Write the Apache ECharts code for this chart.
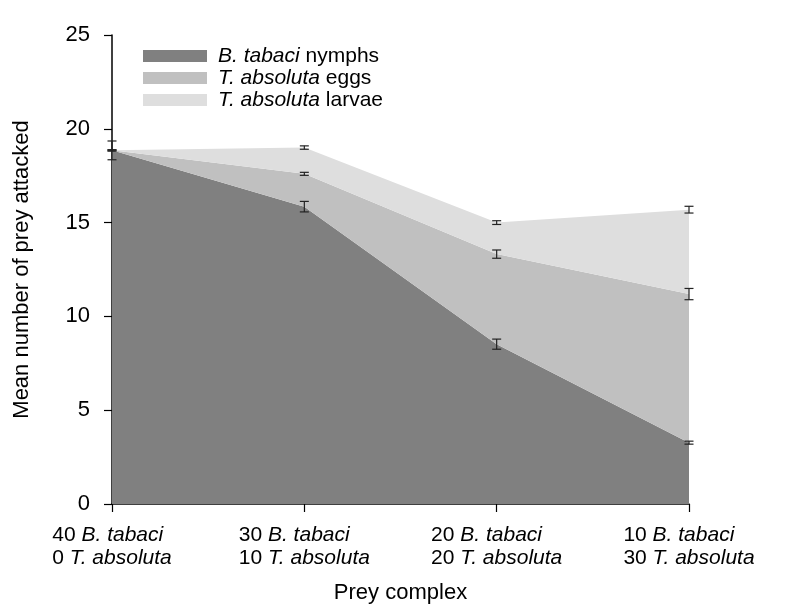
<!DOCTYPE html>
<html>
<head>
<meta charset="utf-8">
<script src="https://cdn.jsdelivr.net/npm/echarts@6/dist/echarts.min.js"></script>
<style>
html,body{margin:0;padding:0;background:#fff;}
#c{width:794px;height:616px;}
</style>
</head>
<body>
<div id="c"></div>
<script>
// ---- data ----
var bTabaciCounts = [40, 30, 20, 10];
var tAbsolutaCounts = [0, 10, 20, 30];
var nymphMeans = [18.85, 15.85, 8.52, 3.27];
var eggMeans = [0.0, 1.75, 4.8, 7.92];
var larvaeMeans = [0.0, 1.4, 1.68, 4.5];
var nymphErr = [0.5, 0.28, 0.27, 0.08];
var eggErr = [0.03, 0.08, 0.22, 0.3];
var larvaeErr = [0.03, 0.09, 0.1, 0.18];
var yTicks = [0, 5, 10, 15, 20, 25];
var seriesNames = ['B. tabaci nymphs', 'T. absoluta eggs', 'T. absoluta larvae'];

var categories = bTabaciCounts.map(function (b, i) { return b + '|' + tAbsolutaCounts[i]; });

// cumulative tops for error bars
var errData = [];
for (var i = 0; i < categories.length; i++) {
  var c1 = nymphMeans[i];
  var c2 = c1 + eggMeans[i];
  var c3 = c2 + larvaeMeans[i];
  errData.push([i, c1 - nymphErr[i], c1 + nymphErr[i]]);
  errData.push([i, c2 - eggErr[i], c2 + eggErr[i]]);
  errData.push([i, c3 - larvaeErr[i], c3 + larvaeErr[i]]);
}

var FONT = '"Liberation Sans", Arial, Helvetica, sans-serif';
var colors = ['#808080', '#c0c0c0', '#dedede'];

var chart = echarts.init(document.getElementById('c'), null, {renderer: 'canvas'});

function areaSeries(name, data, color) {
  return {
    name: name,
    type: 'line',
    stack: 'total',
    data: data,
    symbol: 'none',
    showSymbol: false,
    lineStyle: {width: 0, color: color},
    itemStyle: {color: color},
    areaStyle: {color: color, opacity: 1},
    emphasis: {disabled: true},
    silent: true,
    animation: false
  };
}

var option = {
  animation: false,
  backgroundColor: '#ffffff',
  grid: {left: 112, right: 105, top: 35, bottom: 112, containLabel: false},
  legend: {
    orient: 'vertical',
    left: 138,
    top: 40,
    itemWidth: 64,
    itemHeight: 12,
    itemGap: 0,
    icon: 'rect',
    data: seriesNames.map(function (n, k) { return {name: n, icon: 'rect', itemStyle: {color: colors[k]}}; }),
    formatter: function (name) {
      var sp = name.indexOf(' ', name.indexOf('.') + 2);
      return '{i|' + name.substring(0, sp) + '}' + name.substring(sp);
    },
    textStyle: {
      fontFamily: FONT, fontSize: 21, color: '#000', lineHeight: 22, padding: [0, 0, 0, 6],
      rich: {i: {fontFamily: FONT, fontSize: 21, fontStyle: 'italic', color: '#000', lineHeight: 22}}
    }
  },
  xAxis: {
    type: 'category',
    data: categories,
    boundaryGap: false,
    name: 'Prey complex',
    nameLocation: 'middle',
    nameGap: 78,
    nameTextStyle: {fontFamily: FONT, fontSize: 22, color: '#000'},
    axisLine: {show: true, lineStyle: {color: '#000', width: 1.5}},
    axisTick: {show: true, length: 8, alignWithLabel: true, interval: 0, lineStyle: {color: '#000', width: 1.2}},
    axisLabel: {
      interval: 0,
      margin: 20,
      color: '#000',
      fontFamily: FONT,
      fontSize: 21,
      lineHeight: 23,
      formatter: function (v) {
        var p = v.split('|');
        return '{a|' + p[0] + ' }{i|B. tabaci}\n{a|' + p[1] + ' }{i|T. absoluta}';
      },
      rich: {
        a: {fontFamily: FONT, fontSize: 21, color: '#000', lineHeight: 23, align: 'left'},
        i: {fontFamily: FONT, fontSize: 21, fontStyle: 'italic', color: '#000', lineHeight: 23, align: 'left'}
      }
    },
    splitLine: {show: false}
  },
  yAxis: {
    type: 'value',
    min: yTicks[0],
    max: yTicks[yTicks.length - 1],
    interval: yTicks[1] - yTicks[0],
    name: 'Mean number of prey attacked',
    nameLocation: 'middle',
    nameGap: 79,
    nameTextStyle: {fontFamily: FONT, fontSize: 22, color: '#000'},
    axisLine: {show: true, lineStyle: {color: '#000', width: 1.5}},
    axisTick: {show: true, length: 8, lineStyle: {color: '#000', width: 1.2}},
    axisLabel: {margin: 22, color: '#000', fontFamily: FONT, fontSize: 22},
    splitLine: {show: false}
  },
  series: [
    areaSeries(seriesNames[0], nymphMeans, colors[0]),
    areaSeries(seriesNames[1], eggMeans, colors[1]),
    areaSeries(seriesNames[2], larvaeMeans, colors[2]),
    {
      type: 'custom',
      name: 'err',
      silent: true,
      z: 10,
      data: errData,
      encode: {x: 0, y: [1, 2]},
      renderItem: function (params, api) {
        var x = api.value(0);
        var lo = api.coord([x, api.value(1)]);
        var hi = api.coord([x, api.value(2)]);
        var w = 4.5;
        var st = {stroke: '#222', lineWidth: 1.2, fill: null};
        return {
          type: 'group',
          children: [
            {type: 'line', shape: {x1: lo[0], y1: lo[1], x2: hi[0], y2: hi[1]}, style: st},
            {type: 'line', shape: {x1: lo[0] - w, y1: lo[1], x2: lo[0] + w, y2: lo[1]}, style: st},
            {type: 'line', shape: {x1: hi[0] - w, y1: hi[1], x2: hi[0] + w, y2: hi[1]}, style: st}
          ]
        };
      }
    }
  ]
};
chart.setOption(option);
</script>
</body>
</html>
